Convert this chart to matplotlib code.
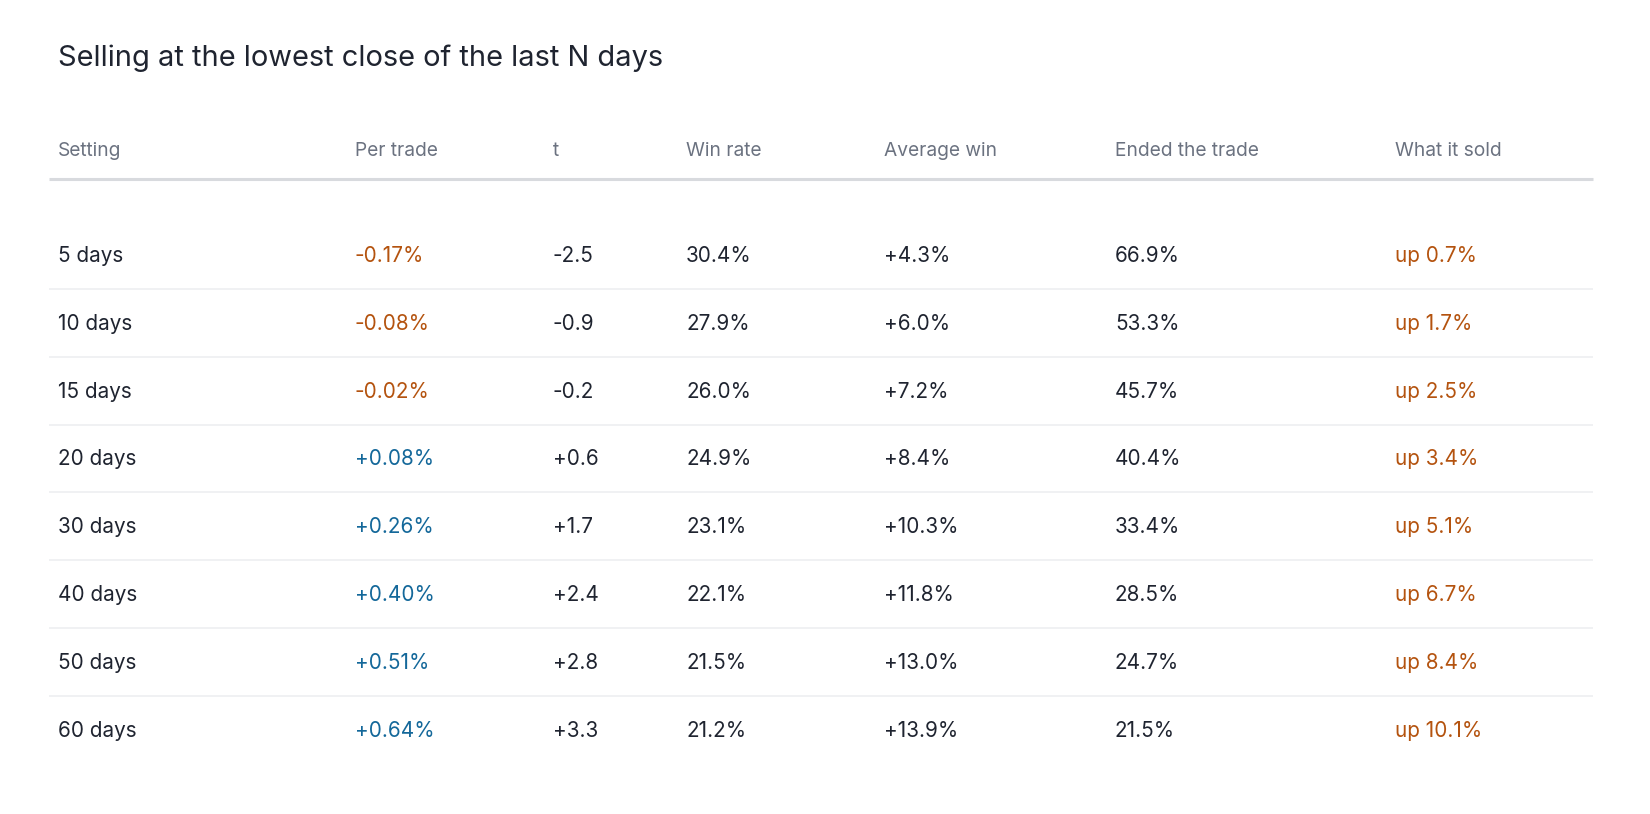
import matplotlib
matplotlib.use("Agg")
import matplotlib.pyplot as plt

plt.rcParams['font.family'] = ['Inter', 'DejaVu Sans']

title = "Selling at the lowest close of the last N days"
columns = ["Setting", "Per trade", "t", "Win rate", "Average win", "Ended the trade", "What it sold"]
settings = ["5 days", "10 days", "15 days", "20 days", "30 days", "40 days", "50 days", "60 days"]
per_trade = ["-0.17%", "-0.08%", "-0.02%", "+0.08%", "+0.26%", "+0.40%", "+0.51%", "+0.64%"]
t_stat = ["-2.5", "-0.9", "-0.2", "+0.6", "+1.7", "+2.4", "+2.8", "+3.3"]
win_rate = ["30.4%", "27.9%", "26.0%", "24.9%", "23.1%", "22.1%", "21.5%", "21.2%"]
avg_win = ["+4.3%", "+6.0%", "+7.2%", "+8.4%", "+10.3%", "+11.8%", "+13.0%", "+13.9%"]
ended = ["66.9%", "53.3%", "45.7%", "40.4%", "33.4%", "28.5%", "24.7%", "21.5%"]
sold = ["up 0.7%", "up 1.7%", "up 2.5%", "up 3.4%", "up 5.1%", "up 6.7%", "up 8.4%", "up 10.1%"]

W, H = 1650, 814
fig = plt.figure(figsize=(W / 100, H / 100), dpi=100)
ax = fig.add_axes([0, 0, 1, 1])
ax.set_xlim(0, W)
ax.set_ylim(H, 0)
ax.axis('off')

DARK = '#1f2430'
GRAY = '#6b7280'
ORANGE = '#b4530f'
BLUE = '#14689a'

col_x = [58, 355, 553, 686, 884, 1115, 1395]
fs = 14.9

ax.text(58, 65.5, title, fontsize=20.9, color=DARK, va='baseline', ha='left')

for x, c in zip(col_x, columns):
    ax.text(x, 156, c, fontsize=13.8, color=GRAY, va='baseline', ha='left')

ax.plot([49, 1593], [179, 179], color='#d8dade', lw=2.2, solid_capstyle='butt')

base0, step = 262, 67.8
n = len(settings)
for i in range(n):
    yb = base0 + step * i
    def col_color(v):
        return ORANGE if v.startswith('-') else BLUE
    vals = [
        (settings[i], DARK),
        (per_trade[i], col_color(per_trade[i])),
        (t_stat[i], DARK),
        (win_rate[i], DARK),
        (avg_win[i], DARK),
        (ended[i], DARK),
        (sold[i], ORANGE),
    ]
    for x, (v, c) in zip(col_x, vals):
        ax.text(x, yb, v, fontsize=fs, color=c, va='baseline', ha='left')
    if i < n - 1:
        ysep = yb + 27
        ax.plot([49, 1593], [ysep, ysep], color='#eeeff1', lw=1.2, solid_capstyle='butt')

fig.savefig('out.png', dpi=100, facecolor='white')
